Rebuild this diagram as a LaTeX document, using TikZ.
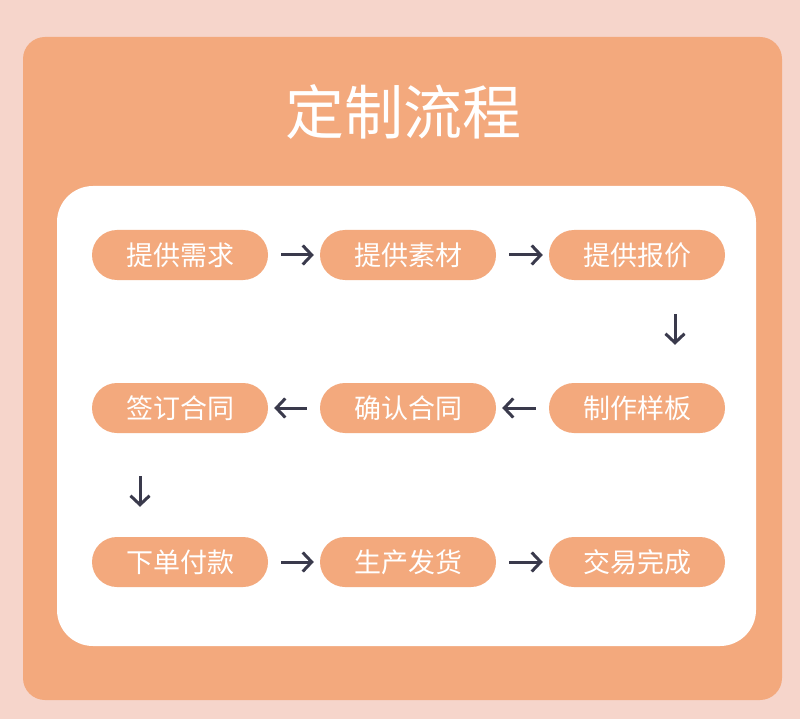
\documentclass[tikz,border=0pt]{standalone}
\usepackage{fontspec}
\setmainfont{Noto Sans CJK SC}
\usetikzlibrary{arrows.meta}
\definecolor{bgpink}{HTML}{F6D5CB}
\definecolor{panel}{HTML}{F3A97D}
\definecolor{arrowc}{HTML}{3A3A4C}
\tikzset{
  pill/.style={fill=panel, rounded corners=25pt, minimum width=176pt, minimum height=50pt,
    text=white, font=\fontsize{27pt}{27pt}\selectfont, inner sep=0pt},
  flow/.style={draw=arrowc, line width=3pt, -{Straight Barb[length=9pt,width=19pt,line width=3pt]}}
}
\begin{document}
\begin{tikzpicture}[x=1pt,y=-1pt]
\useasboundingbox (0,0) rectangle (800,719);
\fill[bgpink] (0,0) rectangle (800,719);
\fill[panel, rounded corners=22pt] (23,37) rectangle (782,700);
\fill[white, rounded corners=36pt] (57,186) rectangle (756,646);
\node[text=white, font=\fontsize{59pt}{59pt}\selectfont] (title) at (403,112) {定制流程};
% row 1
\node[pill] (a1) at (180,255) {提供需求};
\node[pill] (a2) at (408,255) {提供素材};
\node[pill] (a3) at (637,255) {提供报价};
% row 2
\node[pill] (b3) at (637,408) {制作样板};
\node[pill] (b2) at (408,408) {确认合同};
\node[pill] (b1) at (180,408) {签订合同};
% row 3
\node[pill] (c1) at (180,562) {下单付款};
\node[pill] (c2) at (408,562) {生产发货};
\node[pill] (c3) at (637,562) {交易完成};
% arrows
\draw[flow] ([xshift=13pt]a1.east) -- ([xshift=-6pt]a2.west);
\draw[flow] ([xshift=13pt]a2.east) -- ([xshift=-6pt]a3.west);
\draw[flow] ([xshift=38pt,yshift=-34pt]a3.south) -- ([xshift=38pt,yshift=38pt]b3.north);
\draw[flow] ([xshift=-13pt]b3.west) -- ([xshift=6pt]b2.east);
\draw[flow] ([xshift=-13pt]b2.west) -- ([xshift=6pt]b1.east);
\draw[flow] ([xshift=-40pt,yshift=-43pt]b1.south) -- ([xshift=-40pt,yshift=30pt]c1.north);
\draw[flow] ([xshift=13pt]c1.east) -- ([xshift=-6pt]c2.west);
\draw[flow] ([xshift=13pt]c2.east) -- ([xshift=-6pt]c3.west);
\end{tikzpicture}
\end{document}
